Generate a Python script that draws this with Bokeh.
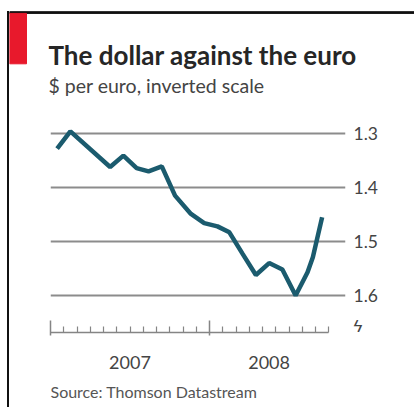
from bokeh.plotting import figure
from bokeh.layouts import column, row
from bokeh.models import (Range1d, LinearAxis, FixedTicker, Label,
                          ColumnDataSource, Grid, Div, Spacer)
from bokeh.embed import file_html
from bokeh.resources import INLINE

# ---- data ----
# x: months since 1 Jan 2007 (mid-month points), y: dollars per euro
months = [0.5, 1.5, 4.5, 5.5, 6.5, 7.4, 8.4, 9.4, 10.6, 11.6, 12.6, 13.5,
          14.5, 15.5, 16.5, 17.5, 18.5, 19.4, 19.8, 20.5]
usd_per_eur = [1.328, 1.296, 1.362, 1.341, 1.364, 1.370, 1.361, 1.415, 1.449,
               1.466, 1.472, 1.483, 1.523, 1.562, 1.540, 1.552, 1.600, 1.557,
               1.529, 1.455]
year_labels = ["2007", "2008"]
year_starts = [0, 12]
axis_end_month = 21
y_ticks = [1.3, 1.4, 1.5, 1.6]
break_tick = 1.65
break_symbol = "ϟ"

title_text = "The dollar against the euro"
subtitle_text = "$ per euro, inverted scale"
source_text = "Source: Thomson Datastream"

FONT = "Lato"
LINE_COLOR = "#1b5b6e"
GRID_COLOR = "#8c8c8c"
AXIS_COLOR = "#858585"
TEXT_COLOR = "#444444"
FRAME_COLOR = "#111111"
RED = "#e8192c"

W, H = 414, 407
HEAD_H, CHART_H = 108, 272
FOOT_H = H - HEAD_H - CHART_H
PAD_W, RULE_W, RULE_TOP = 7, 2, 11
INNER_W = W - PAD_W - RULE_W
X0 = PAD_W + RULE_W          # page x of the inner column


def blank(width, height):
    f = figure(width=width, height=height, output_backend="svg",
               toolbar_location=None, x_range=Range1d(0, width),
               y_range=Range1d(height, 0), x_axis_location=None,
               y_axis_location=None, min_border=0, outline_line_color=None,
               background_fill_color="white", border_fill_color="white")
    for g in f.grid:
        g.visible = False
    return f


# ---- left frame rule ----
rule = Div(text=('<div style="margin:0;padding:0;height:%dpx;"></div>'
                 '<div style="margin:0;padding:0;width:%dpx;height:%dpx;'
                 'background-color:%s;"></div>')
           % (RULE_TOP, RULE_W, H - RULE_TOP, FRAME_COLOR),
           width=RULE_W, height=H, margin=0)

# ---- header: top rule, red tab, title, subtitle ----
head = blank(INNER_W, HEAD_H)
head.quad(left=[0], right=[INNER_W], top=[11.2], bottom=[12.9], color=FRAME_COLOR)
head.quad(left=[0], right=[26 - X0], top=[12.9], bottom=[63.3], color=RED)
head.add_layout(Label(x=48 - X0, y=54, text=title_text, text_font=FONT,
                      text_font_style="bold", text_font_size="26px",
                      text_color="#262626", text_baseline="middle"))
head.add_layout(Label(x=48 - X0, y=84.5, text=subtitle_text, text_font=FONT,
                      text_font_size="19.5px", text_color=TEXT_COLOR,
                      text_baseline="middle"))

# ---- the chart ----
px_per_unit = 540.0
px_per_month = 13.25
frame_left = 50 - X0
frame_w, frame_h = 295, 224
y_top = 1.3 - 25 / px_per_unit
y_bot = y_top + frame_h / px_per_unit

p = figure(width=INNER_W, height=CHART_H, output_backend="svg",
           toolbar_location=None,
           x_range=Range1d(0, frame_w / px_per_month),
           y_range=Range1d(y_bot, y_top),
           x_axis_location=None, y_axis_location=None,
           min_border_left=frame_left, min_border_top=0,
           min_border_right=INNER_W - frame_left - frame_w,
           min_border_bottom=CHART_H - frame_h,
           background_fill_color="white", border_fill_color="white",
           outline_line_color=None)
for g in p.grid:
    g.visible = False

# right value axis (plus the axis-break mark below the last value)
yaxis = LinearAxis(ticker=FixedTicker(ticks=y_ticks + [break_tick]),
                   major_label_overrides={break_tick: break_symbol},
                   axis_line_color=None,
                   major_tick_line_color=None, minor_tick_line_color=None,
                   major_tick_in=0, major_tick_out=0,
                   major_label_standoff=8, major_label_text_font=FONT,
                   major_label_text_font_size="17.5px",
                   major_label_text_color=TEXT_COLOR)
p.add_layout(yaxis, "right")
p.add_layout(Grid(dimension=1, ticker=FixedTicker(ticks=y_ticks),
                  grid_line_color=GRID_COLOR, grid_line_width=2))

# bottom tick axis (months)
minor = [m for m in range(1, axis_end_month + 1) if m not in year_starts]
xticks = LinearAxis(ticker=FixedTicker(ticks=year_starts, minor_ticks=minor),
                    bounds=(0, axis_end_month),
                    axis_line_color=AXIS_COLOR, axis_line_width=1.5,
                    major_tick_line_color=AXIS_COLOR, major_tick_line_width=1.5,
                    minor_tick_line_color=AXIS_COLOR, minor_tick_line_width=1.2,
                    major_tick_in=12, major_tick_out=3,
                    minor_tick_in=6, minor_tick_out=0,
                    major_label_text_font_size="1px", major_label_standoff=0,
                    major_label_overrides={t: "" for t in year_starts})
p.add_layout(xticks, "below")

# year labels centred on each year's stretch of the axis
year_ends = year_starts[1:] + [axis_end_month]
year_mids = [(a + b) / 2 for a, b in zip(year_starts, year_ends)]
xyears = LinearAxis(ticker=FixedTicker(ticks=year_mids),
                    major_label_overrides=dict(zip(year_mids, year_labels)),
                    axis_line_color=None, major_tick_line_color=None,
                    minor_tick_line_color=None, major_tick_in=0,
                    major_tick_out=0, major_label_standoff=20,
                    major_label_text_font=FONT, major_label_text_font_size="18px",
                    major_label_text_color=TEXT_COLOR)
p.add_layout(xyears, "below")

src = ColumnDataSource(dict(month=months, rate=usd_per_eur))
p.line("month", "rate", source=src, line_color=LINE_COLOR, line_width=4.5)

# ---- footer: source ----
foot = blank(INNER_W, FOOT_H)
foot.add_layout(Label(x=50 - X0, y=10.5, text=source_text,
                      text_font=FONT, text_font_size="16px",
                      text_color="#555555", text_baseline="middle"))

# the chart is wrapped in its own row so the column does not align the
# header/footer frames with the chart's frame
layout = row(Spacer(width=PAD_W, height=H), rule,
             column(head, row(p), foot))
open("out.html", "w").write(file_html(layout, INLINE))
